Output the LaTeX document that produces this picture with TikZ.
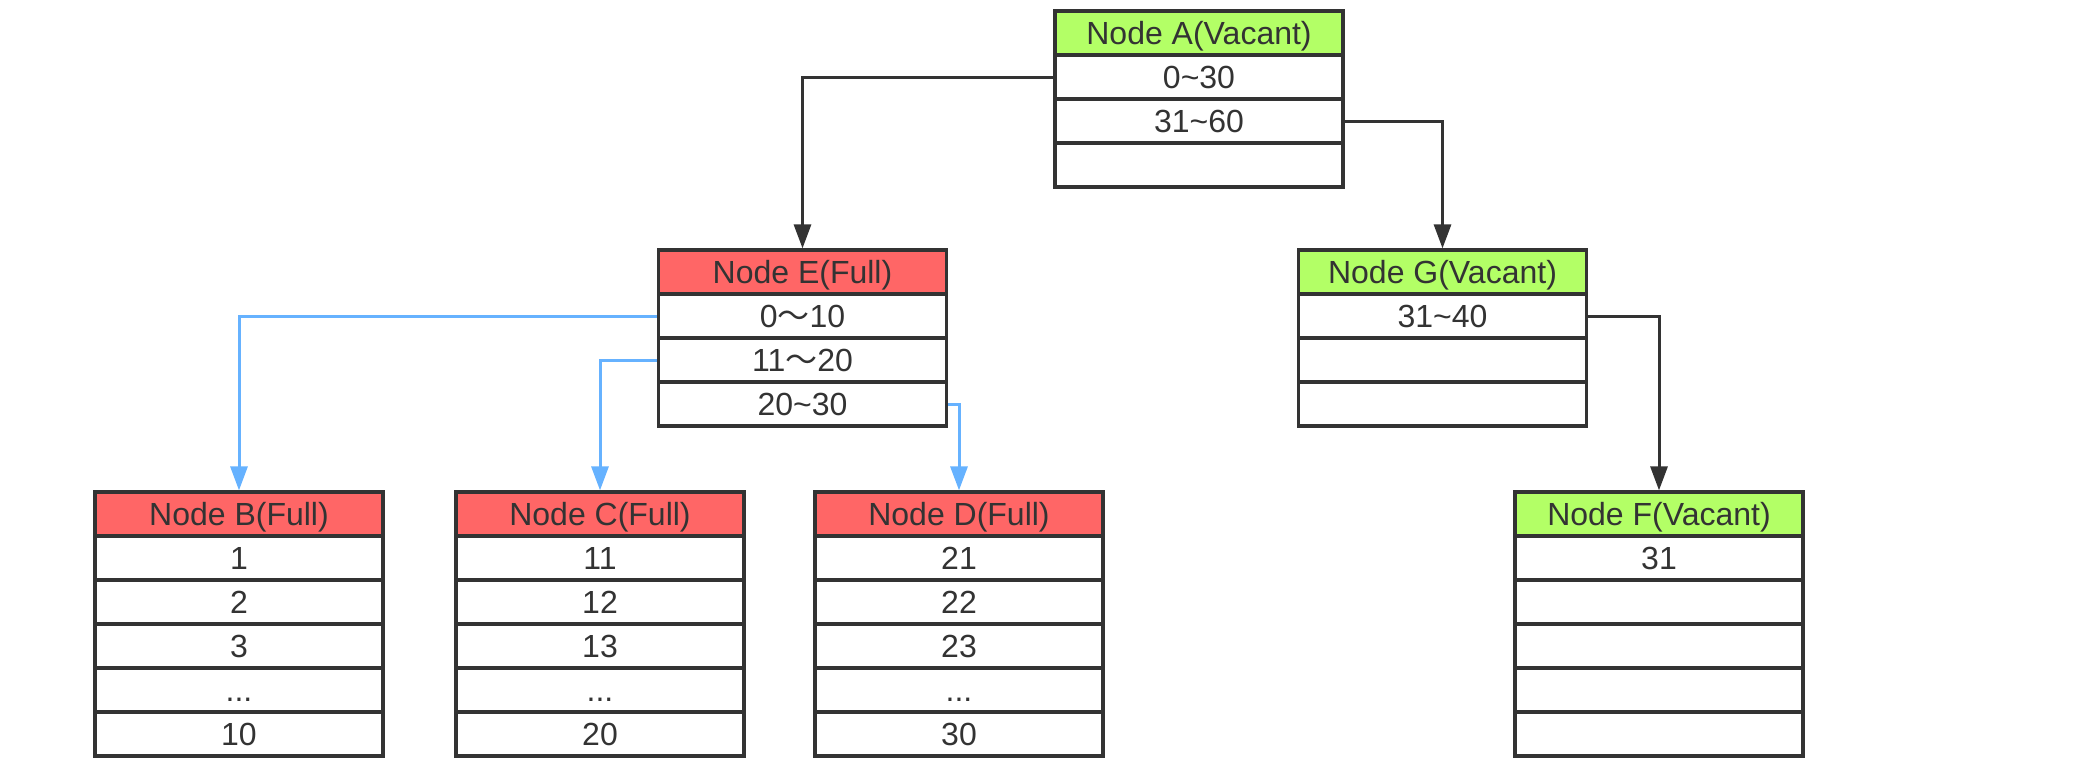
\documentclass[tikz,border=0pt]{standalone}
\usepackage{fontspec}
\setmainfont{Liberation Sans}
\newfontfamily\cjk{Noto Sans CJK SC}
\usetikzlibrary{arrows.meta}
\definecolor{ink}{HTML}{333333}
\definecolor{fullred}{HTML}{FF6666}
\definecolor{vacgreen}{HTML}{B3FF66}
\definecolor{linkblue}{HTML}{66B2FF}
\newcommand{\wt}{{\cjk ～}}
\tikzset{
  cell/.style={draw=ink, line width=3.2pt, fill=white, minimum width=288pt, minimum height=44pt,
    inner sep=0pt, text height=23pt, text depth=0pt, text=ink, font=\fontsize{32}{38}\selectfont},
  hdfull/.style={cell, fill=fullred},
  hdvac/.style={cell, fill=vacgreen},
  blk/.style={draw=ink, line width=3pt, -{Triangle[length=24pt,width=17pt]}},
  blu/.style={draw=linkblue, line width=3pt, -{Triangle[length=24pt,width=17pt]}},
}
\begin{document}
\begin{tikzpicture}[x=1pt,y=-1pt]
\useasboundingbox (0,0) rectangle (2090,784);
% Node A
\node[hdvac] (A0) at (1199,33) {Node A(Vacant)};
\node[cell] (A1) at (1199,77) {0\char"007E 30};
\node[cell] (A2) at (1199,121) {31\char"007E 60};
\node[cell] (A3) at (1199,165) {};
% Node E
\node[hdfull] (E0) at (802.5,272) {Node E(Full)};
\node[cell] (E1) at (802.5,316) {0\wt10};
\node[cell] (E2) at (802.5,360) {11\wt20};
\node[cell] (E3) at (802.5,404) {20\char"007E 30};
% Node G
\node[hdvac] (G0) at (1442.5,272) {Node G(Vacant)};
\node[cell] (G1) at (1442.5,316) {31\char"007E 40};
\node[cell] (G2) at (1442.5,360) {};
\node[cell] (G3) at (1442.5,404) {};
% Node B
\node[hdfull] (B0) at (239,514) {Node B(Full)};
\node[cell] (B1) at (239,558) {1};
\node[cell] (B2) at (239,602) {2};
\node[cell] (B3) at (239,646) {3};
\node[cell] (B4) at (239,690) {...};
\node[cell] (B5) at (239,734) {10};
% Node C
\node[hdfull] (C0) at (600,514) {Node C(Full)};
\node[cell] (C1) at (600,558) {11};
\node[cell] (C2) at (600,602) {12};
\node[cell] (C3) at (600,646) {13};
\node[cell] (C4) at (600,690) {...};
\node[cell] (C5) at (600,734) {20};
% Node D
\node[hdfull] (D0) at (959,514) {Node D(Full)};
\node[cell] (D1) at (959,558) {21};
\node[cell] (D2) at (959,602) {22};
\node[cell] (D3) at (959,646) {23};
\node[cell] (D4) at (959,690) {...};
\node[cell] (D5) at (959,734) {30};
% Node F
\node[hdvac] (F0) at (1659,514) {Node F(Vacant)};
\node[cell] (F1) at (1659,558) {31};
\node[cell] (F2) at (1659,602) {};
\node[cell] (F3) at (1659,646) {};
\node[cell] (F4) at (1659,690) {};
\node[cell] (F5) at (1659,734) {};
% connectors
\draw[blk] (A1.west) -| (E0.north);
\draw[blk] (A2.east) -| (G0.north);
\draw[blk] (G1.east) -| (F0.north);
\draw[blu] (E1.west) -| (B0.north);
\draw[blu] (E2.west) -| (C0.north);
\draw[blu] (E3.east) -| (D0.north);
\end{tikzpicture}
\end{document}
